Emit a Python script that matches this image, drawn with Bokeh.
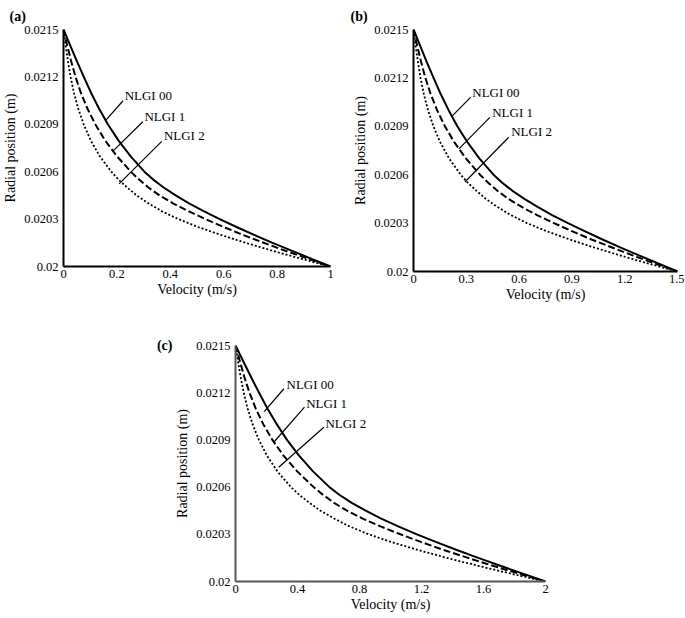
from bokeh.plotting import figure
from bokeh.layouts import column, row
from bokeh.models import FixedTicker, CustomJSTickFormatter, Label, Spacer, LinearAxis
from bokeh.embed import file_html
from bokeh.resources import INLINE

# ---------------- data ----------------
radial = [0.0215, 0.0214, 0.0213, 0.0212, 0.0211, 0.0210, 0.0209, 0.0208, 0.0207, 0.0206,
          0.02055, 0.0205, 0.02045, 0.0204, 0.02035, 0.0203, 0.02025, 0.0202, 0.02015,
          0.0201, 0.02005, 0.0200]

# panel (a), max velocity 1 m/s
a_nlgi00 = [0, 0.025, 0.050, 0.076, 0.103, 0.133, 0.166, 0.205, 0.250, 0.303, 0.336, 0.375,
            0.420, 0.470, 0.525, 0.585, 0.648, 0.714, 0.783, 0.854, 0.927, 1.0]
a_nlgi1 = [0, 0.014, 0.0285, 0.045, 0.065, 0.0895, 0.119, 0.155, 0.199, 0.252, 0.283, 0.318,
           0.3595, 0.41, 0.468, 0.532, 0.60, 0.672, 0.75, 0.83, 0.914, 1.0]
a_nlgi2 = [0, 0.008, 0.0165, 0.0265, 0.039, 0.055, 0.0755, 0.1015, 0.135, 0.179, 0.206, 0.2385,
           0.274, 0.318, 0.368, 0.43, 0.504, 0.589, 0.682, 0.782, 0.888, 1.0]

# panel (b), max velocity 1.5 m/s
b_nlgi00 = [0, 0.0375, 0.075, 0.114, 0.1545, 0.1995, 0.249, 0.3075, 0.375, 0.4545, 0.504, 0.5625,
            0.63, 0.705, 0.7875, 0.8775, 0.972, 1.071, 1.1745, 1.281, 1.3905, 1.5]
b_nlgi1 = [0, 0.021, 0.043, 0.0675, 0.0975, 0.134, 0.1785, 0.2325, 0.2985, 0.378, 0.4245, 0.477,
           0.539, 0.615, 0.702, 0.798, 0.90, 1.008, 1.125, 1.245, 1.371, 1.5]
b_nlgi2 = [0, 0.012, 0.025, 0.04, 0.0585, 0.0825, 0.113, 0.152, 0.2025, 0.2685, 0.309, 0.358,
           0.411, 0.477, 0.552, 0.645, 0.756, 0.8835, 1.023, 1.173, 1.332, 1.5]

# panel (c), max velocity 2 m/s
c_nlgi00 = [0, 0.05, 0.1, 0.152, 0.206, 0.266, 0.332, 0.41, 0.5, 0.606, 0.672, 0.75,
            0.84, 0.94, 1.05, 1.17, 1.296, 1.428, 1.566, 1.708, 1.854, 2.0]
c_nlgi1 = [0, 0.028, 0.057, 0.09, 0.13, 0.179, 0.238, 0.31, 0.398, 0.504, 0.566, 0.636,
           0.719, 0.82, 0.936, 1.064, 1.2, 1.344, 1.5, 1.66, 1.828, 2.0]
c_nlgi2 = [0, 0.016, 0.033, 0.053, 0.078, 0.11, 0.151, 0.203, 0.27, 0.358, 0.412, 0.477,
           0.548, 0.636, 0.736, 0.86, 1.008, 1.178, 1.364, 1.564, 1.776, 2.0]

series_names = ["NLGI 00", "NLGI 1", "NLGI 2"]
y_ticks = [0.02, 0.0203, 0.0206, 0.0209, 0.0212, 0.0215]
x_ticks_a = [0, 0.2, 0.4, 0.6, 0.8, 1]
x_ticks_b = [0, 0.3, 0.6, 0.9, 1.2, 1.5]
x_ticks_c = [0, 0.4, 0.8, 1.2, 1.6, 2]

# label anchors (text x, text y, leader start x, y, leader end x, y) in data units
labels_a = [(0.229, 0.02108, 0.223, 0.021049, 0.158, 0.020925),
            (0.303, 0.02095, 0.297, 0.020916, 0.185, 0.02073),
            (0.376, 0.020832, 0.368, 0.020792, 0.208, 0.020523)]
labels_b = [(0.334, 0.02111, 0.324, 0.021079, 0.222, 0.020966),
            (0.447, 0.020986, 0.434, 0.020955, 0.258, 0.02076),
            (0.555, 0.020867, 0.541, 0.020832, 0.292, 0.020555)]
labels_c = [(0.329, 0.02125, 0.312, 0.021225, 0.185, 0.02108),
            (0.456, 0.02113, 0.445, 0.021108, 0.247, 0.020885),
            (0.58, 0.021002, 0.57, 0.02098, 0.279, 0.020726)]

SERIF = "Liberation Serif"

fmt = CustomJSTickFormatter(code="return parseFloat(tick.toFixed(4)).toString();")


def style_axis(ax, axis_color):
    ax.axis_line_color = axis_color
    ax.axis_line_width = 2
    ax.major_tick_line_color = None
    ax.minor_tick_line_color = None
    ax.major_tick_out = 0
    ax.major_tick_in = 0
    ax.minor_tick_out = 0
    ax.minor_tick_in = 0
    ax.major_label_text_font = SERIF
    ax.major_label_text_font_size = "12.5px"
    ax.major_label_text_color = "black"
    ax.axis_label_text_font = SERIF
    ax.axis_label_text_font_size = "14px"
    ax.axis_label_text_font_style = "normal"
    ax.axis_label_text_color = "black"


def make_panel(tag, tag_dx, tag_mode, xmax, xticks, curves, labels, width, height, borders, axis_color):
    bl, br, bt, bb = borders
    p = figure(width=width, height=height, x_range=(0, xmax), y_range=(0.02, 0.0215),
               output_backend="svg", toolbar_location=None,
               min_border_left=bl, min_border_right=br, min_border_top=bt, min_border_bottom=bb)
    p.outline_line_color = None
    p.grid.visible = False
    p.xaxis.ticker = FixedTicker(ticks=xticks)
    p.yaxis.ticker = FixedTicker(ticks=y_ticks)
    p.xaxis.formatter = fmt
    p.yaxis.formatter = fmt
    p.xaxis.axis_label = "Velocity (m/s)"
    p.yaxis.axis_label = "Radial position (m)"
    style_axis(p.xaxis[0], axis_color)
    style_axis(p.yaxis[0], axis_color)
    p.yaxis.major_label_standoff = 5
    p.yaxis.axis_label_standoff = 3
    p.xaxis.major_label_standoff = 3
    p.xaxis.axis_label_standoff = 1

    styles = [dict(line_dash="solid", line_width=2.0),
              dict(line_dash="7 3", line_width=2.0),
              dict(line_dash="2 2", line_width=1.8)]
    for vals, st in zip(curves, styles):
        p.line(vals, radial, line_color="black", line_join="round", **st)

    for name, (tx, ty, x0, y0, x1, y1) in zip(series_names, labels):
        p.segment(x0=[x0], y0=[y0], x1=[x1], y1=[y1], line_color="black", line_width=1.2)
        p.add_layout(Label(x=tx, y=ty, text=name, text_font=SERIF, text_font_size="13px",
                           text_baseline="middle", text_align="left", text_color="black"))

    if tag_mode == "title":
        p.title.text = tag
        p.title.align = "left"
        p.title.offset = tag_dx
        p.title.standoff = 12
        p.title.text_font = SERIF
        p.title.text_font_size = "14px"
        p.title.text_font_style = "bold"
        p.title.text_color = "black"
    else:
        tag_axis = LinearAxis(ticker=FixedTicker(ticks=[0.0215]),
                              formatter=CustomJSTickFormatter(code="return '%s';" % tag))
        style_axis(tag_axis, None)
        tag_axis.major_label_text_font_style = "bold"
        tag_axis.major_label_text_font_size = "14px"
        tag_axis.major_label_standoff = 0
        p.add_layout(tag_axis, "left")
    return p


pa = make_panel("(a)", -54, "title", 1, x_ticks_a, [a_nlgi00, a_nlgi1, a_nlgi2], labels_a,
                340, 302, (62, 10, 24, 36), "black")
pb = make_panel("(b)", -63, "title", 1.5, x_ticks_b, [b_nlgi00, b_nlgi1, b_nlgi2], labels_b,
                344, 307, (73, 7, 28, 36), "black")
pc = make_panel("(c)", 0, "axis", 2, x_ticks_c, [c_nlgi00, c_nlgi1, c_nlgi2], labels_c,
                405, 310, (83, 12, 38, 36), "#555555")

layout = column(row(pa, pb), row(Spacer(width=152, height=310), pc))

open("out.html", "w").write(file_html(layout, INLINE))
